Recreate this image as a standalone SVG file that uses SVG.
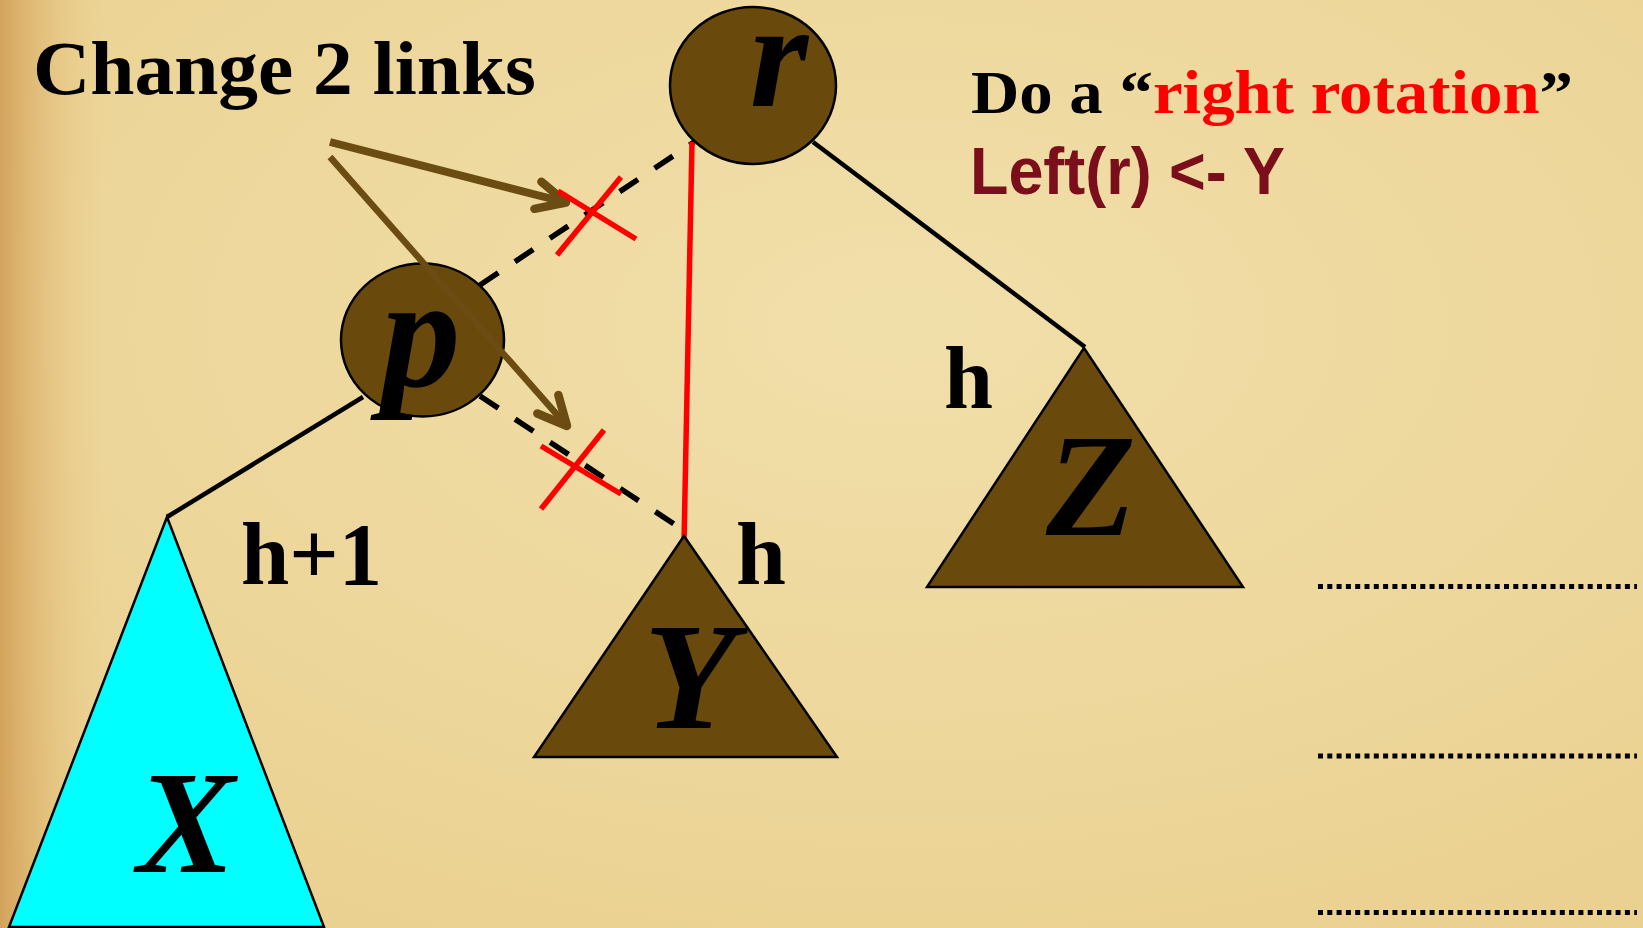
<svg xmlns="http://www.w3.org/2000/svg" width="1643" height="928" viewBox="0 0 1643 928">
  <defs>
    <linearGradient id="edge" x1="0" y1="0" x2="1" y2="0">
      <stop offset="0" stop-color="#C98F45" stop-opacity="0.7"/>
      <stop offset="0.5" stop-color="#D9A85E" stop-opacity="0.3"/>
      <stop offset="1" stop-color="#E8C987" stop-opacity="0"/>
    </linearGradient>
    <radialGradient id="tone" cx="0.55" cy="0.35" r="0.8">
      <stop offset="0" stop-color="#F1DFAA"/>
      <stop offset="1" stop-color="#EAD08F"/>
    </radialGradient>
    <marker id="vhead" markerUnits="userSpaceOnUse" orient="auto" refX="0" refY="0" markerWidth="80" markerHeight="80" viewBox="-40 -40 80 80" overflow="visible">
      <path d="M-29,-14 L0,0 L-29,14" fill="none" stroke="#6B4C12" stroke-width="8.5" stroke-linecap="round" stroke-linejoin="round"/>
    </marker>
    <style>
      .node { fill: #6A4A0C; stroke: #000; stroke-width: 2.5; }
      .tri { fill: #6A4A0C; stroke: #000; stroke-width: 2.5; stroke-linejoin: miter; }
      .cyan { fill: #00FFFF; }
      .edge { stroke: #000; stroke-width: 4.5; fill: none; }
      .dash { stroke: #000; stroke-width: 5.5; stroke-dasharray: 22 20; fill: none; }
      .red { stroke: #FF0000; stroke-width: 5.5; fill: none; }
      .arrow { stroke: #6B4C12; fill: none; stroke-linecap: butt; marker-end: url(#vhead); }
      .dots { stroke: #000; stroke-width: 5; stroke-dasharray: 5 4.3; fill: none; }
      .serifb { font-family: "Liberation Serif", "Times New Roman", serif; font-weight: bold; fill: #000; }
      .letter { font-family: "Liberation Serif", "Times New Roman", serif; font-style: italic; font-weight: bold; fill: #000; text-anchor: middle; }
    </style>
  </defs>

  <!-- background -->
  <rect x="0" y="0" width="1643" height="928" fill="url(#tone)"/>
  <rect x="0" y="0" width="110" height="928" fill="url(#edge)"/>

  <!-- connectors -->
  <g id="connectors">
    <line class="edge" x1="363" y1="397" x2="167" y2="517"/>
    <line class="edge" x1="813" y1="142" x2="1085" y2="347"/>
    <line class="dash" x1="480" y1="285" x2="694" y2="142"/>
    <line class="dash" x1="480" y1="396" x2="677" y2="526"/>
    <line class="red" x1="692" y1="142" x2="684" y2="543" stroke-width="4.5"/>
  </g>

  <!-- subtree nodes -->
  <g id="node-X">
    <polygon class="tri cyan" points="167,517 9,927 324,927"/>
    <text class="letter" x="186" y="872" font-size="147">X</text>
  </g>
  <g id="node-Y">
    <polygon class="tri" points="684,536 534,757 837,757"/>
    <text class="letter" x="690" y="728" font-size="152">Y</text>
  </g>
  <g id="node-Z">
    <polygon class="tri" points="1084,348 927,587 1243,587"/>
    <text class="letter" x="1091" y="535" font-size="147">Z</text>
  </g>

  <!-- tree nodes -->
  <g id="node-r">
    <ellipse class="node" cx="753" cy="85.5" rx="83" ry="78.5"/>
    <text class="letter" x="779" y="106" font-size="150">r</text>
  </g>
  <g id="node-p">
    <ellipse class="node" cx="422.5" cy="340" rx="81.5" ry="76.5"/>
    <text class="letter" x="421" y="386" font-size="158">p</text>
  </g>

  <!-- height labels -->
  <g id="labels">
    <text class="serifb" x="241" y="584" font-size="88" textLength="141" lengthAdjust="spacingAndGlyphs">h+1</text>
    <text class="serifb" x="736" y="584" font-size="89" textLength="50" lengthAdjust="spacingAndGlyphs">h</text>
    <text class="serifb" x="944" y="408" font-size="89" textLength="49" lengthAdjust="spacingAndGlyphs">h</text>
  </g>

  <!-- annotations: arrows and crosses -->
  <g id="annotations">
    <line class="arrow" x1="330" y1="142" x2="566" y2="202.5" stroke-width="8"/>
    <line class="arrow" x1="330" y1="157" x2="567" y2="426" stroke-width="6.5"/>
    <line class="red" x1="557" y1="255" x2="621" y2="177"/>
    <line class="red" x1="558" y1="191" x2="636" y2="239"/>
    <line class="red" x1="541" y1="509" x2="604" y2="430"/>
    <line class="red" x1="541" y1="446" x2="621" y2="494"/>
  </g>

  <!-- captions -->
  <g id="captions">
    <text class="serifb" x="33" y="94" font-size="77" textLength="503" lengthAdjust="spacingAndGlyphs">Change 2 links</text>
    <text class="serifb" x="971" y="113" font-size="62" textLength="602" lengthAdjust="spacingAndGlyphs">Do a “<tspan fill="#FF0000">right rotation</tspan>”</text>
    <text x="970" y="194" font-family="'Liberation Sans', Arial, sans-serif" font-weight="bold" font-size="66" fill="#7A0E1A" textLength="315" lengthAdjust="spacingAndGlyphs">Left(r) &lt;- Y</text>
  </g>

  <!-- dotted rules -->
  <g id="rules">
    <line class="dots" x1="1318" y1="586.5" x2="1637" y2="586.5"/>
    <line class="dots" x1="1318" y1="756" x2="1637" y2="756"/>
    <line class="dots" x1="1318" y1="912.5" x2="1637" y2="912.5"/>
  </g>
</svg>
